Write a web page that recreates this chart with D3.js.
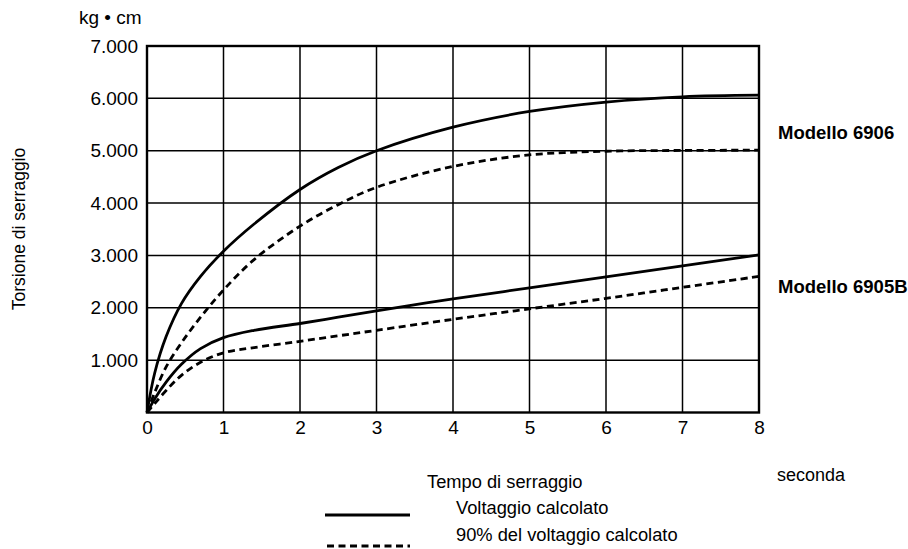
<!DOCTYPE html>
<html><head><meta charset="utf-8">
<script src="https://cdn.jsdelivr.net/npm/d3@7"></script>
<style>body{margin:0;background:#fff}svg{display:block;font-family:"Liberation Sans",Arial,sans-serif}</style>
</head><body><svg id="c" width="908" height="549"></svg>
<script>
const xTicks = [0,1,2,3,4,5,6,7,8];
const yTicks = [1000,2000,3000,4000,5000,6000,7000];
const yTickLabels = ["1.000","2.000","3.000","4.000","5.000","6.000","7.000"];
const tX       = [0, 0.1, 0.25, 0.45, 0.7, 1,    1.4,  2,    2.5,  3,    4,    5,    6,    7,    8];
const m6906Full= [0, 750, 1450, 2080, 2600, 3080, 3600, 4260, 4680, 5000, 5450, 5750, 5930, 6030, 6060];
const m6906_90 = [0, 380, 870,  1330, 1820, 2340, 2920, 3560, 3970, 4300, 4700, 4920, 4990, 5005, 5010];
const m6905Full= [0, 260, 580,  920,  1220, 1430, 1570, 1700, 1820, 1940, 2170, 2380, 2590, 2800, 3010];
const m6905_90 = [0, 170, 420,  710,  960,  1140, 1240, 1360, 1465, 1570, 1780, 1980, 2180, 2390, 2600];

const svg = d3.select("#c");
const x = d3.scaleLinear().domain([0,8]).range([147,759]);
const y = d3.scaleLinear().domain([0,7000]).range([412.5,46]);
const FONT = "Liberation Sans, Arial, sans-serif";

// grid
const g = svg.append("g");
g.selectAll("line.vx").data(xTicks.slice(1,-1)).join("line")
  .attr("x1",d=>x(d)).attr("x2",d=>x(d)).attr("y1",y(0)).attr("y2",y(7000))
  .attr("stroke","#000").attr("stroke-width",1.5);
g.selectAll("line.hy").data(yTicks.slice(0,-1)).join("line")
  .attr("y1",d=>y(d)).attr("y2",d=>y(d)).attr("x1",x(0)).attr("x2",x(8))
  .attr("stroke","#000").attr("stroke-width",1.5);
g.append("rect").attr("x",x(0)).attr("y",y(7000)).attr("width",x(8)-x(0)).attr("height",y(0)-y(7000))
  .attr("fill","none").attr("stroke","#000").attr("stroke-width",2.4);

// axes labels
const xa = d3.axisBottom(x).tickValues(xTicks).tickSize(0).tickPadding(6).tickFormat(d3.format("d"));
svg.append("g").attr("transform",`translate(0,${y(0)+2})`).call(xa)
  .call(s=>s.select(".domain").remove())
  .selectAll("text").attr("font-size",19).attr("fill","#000").attr("font-family",FONT);
const ya = d3.axisLeft(y).tickValues(yTicks).tickSize(0).tickPadding(9).tickFormat((d,i)=>yTickLabels[i]);
svg.append("g").attr("transform",`translate(${x(0)},0)`).call(ya)
  .call(s=>s.select(".domain").remove())
  .selectAll("text").attr("font-size",19).attr("fill","#000").attr("font-family",FONT);

svg.append("text").attr("x",79).attr("y",24).attr("font-size",19).text("kg • cm");
svg.append("text").attr("transform","translate(25,229) rotate(-90)").attr("text-anchor","middle")
  .attr("font-size",17.5).text("Torsione di serraggio");

// curves
const line = d3.line().x((d,i)=>x(tX[i])).y(d=>y(d)).curve(d3.curveCatmullRom.alpha(0.5));
const series = [
  {v:m6906Full,dash:null},{v:m6906_90,dash:"7,4.5"},
  {v:m6905Full,dash:null},{v:m6905_90,dash:"7,4.5"}];
svg.selectAll("path.s").data(series).join("path")
  .attr("d",d=>line(d.v)).attr("fill","none").attr("stroke","#000").attr("stroke-width",2.8)
  .attr("stroke-dasharray",d=>d.dash);

svg.append("text").attr("x",778).attr("y",139).attr("font-size",18.5).attr("font-weight","bold").text("Modello 6906");
svg.append("text").attr("x",778).attr("y",293).attr("font-size",18.5).attr("font-weight","bold").text("Modello 6905B");

svg.append("text").attr("x",427).attr("y",488).attr("font-size",18.3).text("Tempo di serraggio");
svg.append("text").attr("x",777).attr("y",481).attr("font-size",18).text("seconda");

svg.append("line").attr("x1",325).attr("x2",410).attr("y1",515).attr("y2",515).attr("stroke","#000").attr("stroke-width",2.8);
svg.append("line").attr("x1",327).attr("x2",410).attr("y1",546).attr("y2",546).attr("stroke","#000").attr("stroke-width",2.8).attr("stroke-dasharray","7,4.5");
svg.append("text").attr("x",456).attr("y",514).attr("font-size",18.3).text("Voltaggio calcolato");
svg.append("text").attr("x",456).attr("y",541).attr("font-size",18.3).text("90% del voltaggio calcolato");
</script></body></html>
